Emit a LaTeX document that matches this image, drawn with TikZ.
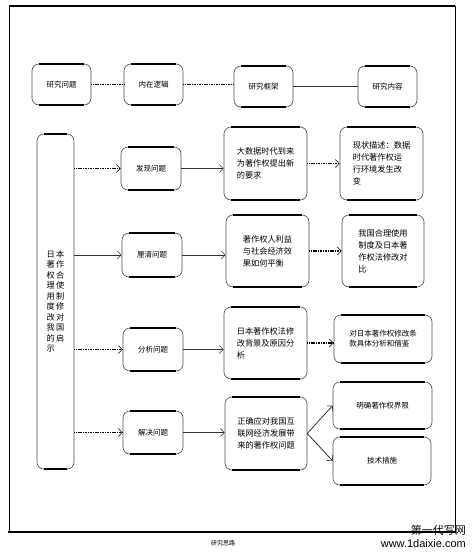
\documentclass[tikz,border=0pt]{standalone}
\usepackage{fontspec}
\setmainfont{Noto Sans CJK SC}
\newfontfamily\wmfont{Liberation Sans}
\usetikzlibrary{arrows.meta}
\XeTeXlinebreaklocale "zh"
\XeTeXlinebreakskip=0.8pt
\tikzset{
  x=1pt, y=-1pt,
  bx/.style={draw=black!70, line width=0.6pt, rounded corners=7pt, align=left, inner sep=0pt},
  small/.style={font=\fontsize{7.5}{10}\selectfont},
  mid/.style={font=\fontsize{8.2}{12}\selectfont},
  dotl/.style={line width=1.7pt, dash pattern=on 1.1pt off 0.6pt},
  solidl/.style={line width=0.8pt, draw=black!80},
  arr/.style={-{Straight Barb[length=4pt,width=8pt,line width=0.6pt]}},
}
\newcommand{\thickedges}[1]{%
  \draw[line width=2pt] ([xshift=7pt]#1.north west) -- ([xshift=-7pt]#1.north east);
  \draw[line width=2pt] ([xshift=7pt]#1.south west) -- ([xshift=-7pt]#1.south east);}
\begin{document}
\begin{tikzpicture}
\useasboundingbox (0,0) rectangle (476,557);
% outer frame
\draw[line width=0.8pt] (9,6) -- (9,532);
\draw[line width=0.8pt] (455,6) -- (455,532);
\draw[line width=1.4pt] (9,6) -- (455,6);
\draw[line width=2.2pt] (8,532) -- (456,532);

% top row
\node[bx, small, minimum width=59, minimum height=41] (q1) at (61.5,84.5) {研究问题};
\node[bx, small, minimum width=59, minimum height=41] (q2) at (153.5,84.5) {内在逻辑};
\node[bx, small, minimum width=59, minimum height=41] (q3) at (263.5,86.5) {研究框架};
\node[bx, small, minimum width=59, minimum height=41, text depth=-6pt] (q4) at (387.5,86.5) {研究内容};

% left tall box
\node[bx, minimum width=37, minimum height=335, font=\fontsize{8.2}{10.5}\selectfont] (L) at (55.5,301.5)
  {日\,本\\著\,作\\权\,合\\理\,使\\用\,制\\度\,修\\改\,对\\我\,国\\的\,启\\示};

% column 2
\node[bx, small, minimum width=60, minimum height=43] (c1) at (151,168.5) {发现问题};
\node[bx, small, minimum width=60, minimum height=44] (c2) at (152,255) {厘清问题};
\node[bx, small, minimum width=60, minimum height=43] (c3) at (153,349.5) {分析问题};
\node[bx, small, minimum width=60, minimum height=43] (c4) at (153,432.5) {解决问题};

% column 3
\node[bx, mid, minimum width=83, minimum height=73] (d1) at (265.5,163.5) {大数据时代到来\\为著作权提出新\\的要求};
\node[bx, mid, minimum width=83, minimum height=72] (d2) at (267.5,251) {著作权人利益\\与社会经济效\\果如何平衡};
\node[bx, mid, minimum width=83, minimum height=72] (d3) at (265.5,343) {日本著作权法修\\改背景及原因分\\析};
\node[bx, mid, minimum width=82, minimum height=73] (d4) at (266,433.5) {正确应对我国互\\联网经济发展带\\来的著作权问题};

% column 4
\node[bx, mid, minimum width=83, minimum height=73] (e1) at (381.5,163.5) {现状描述：数据\\时代著作权运\\行环境发生改\\变};
\node[bx, mid, minimum width=82, minimum height=72] (e2) at (383,251) {我国合理使用\\制度及日本著\\作权法修改对\\比};
\node[bx, small, minimum width=98, minimum height=48] (e3) at (383,339) {对日本著作权修改条\\款具体分析和借鉴};
\node[bx, small, minimum width=99, minimum height=47] (e4) at (382.5,405.5) {明确著作权界限};
\node[bx, small, minimum width=98, minimum height=48] (e5) at (382,461) {技术措施};

\foreach \n in {q1,q2,q3,q4,L,c1,c2,c3,c4,d1,d2,d3,d4,e1,e2,e3,e4,e5} {\thickedges{\n}}

% top connectors
\draw[dotl] (q1.east) -- (q2.west);
\draw[dotl] (q2.east) -- (q2.east -| q3.west);
\draw[solidl] (q3.east) -- (q3.east -| q4.west);

% left box to column 2
\draw[dotl, arr] (L.east |- c1.west) -- (c1.west);
\draw[solidl, arr] (L.east |- c2.west) -- (c2.west);
\draw[dotl, arr] (L.east |- c3.west) -- (c3.west);
\draw[dotl, arr] (L.east |- c4.west) -- (c4.west);

% column 2 to column 3
\draw[solidl, arr] (c1.east) -- (c1.east -| d1.west);
\draw[solidl, arr] (c2.east) -- (c2.east -| d2.west);
\draw[solidl, arr] (c3.east) -- (c3.east -| d3.west);
\draw[solidl, arr] (c4.east) -- (c4.east -| d4.west);

% column 3 to column 4
\draw[dotl, arr] (d1.east) -- (d1.east -| e1.west);
\draw[dotl, arr] (d2.east) -- (d2.east -| e2.west);
\draw[dotl, arr] (d3.east) -- (d3.east -| e3.west);
\draw[solidl, arr] (d4.east) -- (e4.west);
\draw[solidl, arr] (d4.east) -- (e5.west);

% caption
\node[font=\fontsize{6}{7}\selectfont] (cap) at (223,543) {研究思路};
% watermark
\node[font=\fontsize{11}{12}\selectfont, anchor=east, inner sep=0pt] (wm1) at (466,530) {第一代写网};
\node[font=\wmfont\fontsize{11}{12}\selectfont, anchor=east, inner sep=0pt] (wm2) at (466,544) {www.1daixie.com};
\end{tikzpicture}
\end{document}
